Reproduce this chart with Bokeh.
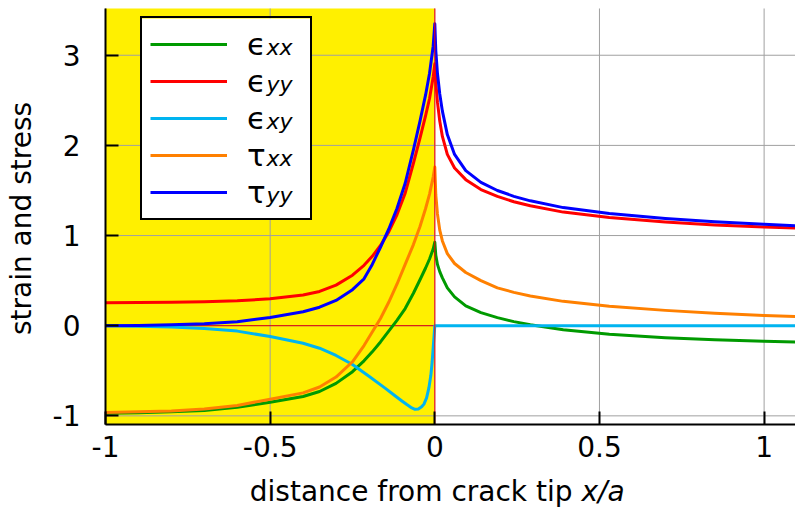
from bokeh.plotting import figure
from bokeh.models import Range1d, FixedTicker, Label, Legend, LegendItem, LinearAxis, BoxAnnotation
from bokeh.embed import file_html
from bokeh.resources import INLINE

# ---------------- data ----------------
x_tip = [-1.0, -0.9, -0.8, -0.7, -0.6, -0.5, -0.4, -0.35, -0.3, -0.25, -0.215, -0.19,
         -0.165, -0.14, -0.115, -0.09, -0.065, -0.045, -0.028, -0.016, -0.005, 0.0,
         0.003, 0.008, 0.015, 0.023, 0.038, 0.06, 0.094, 0.14, 0.19, 0.24, 0.29,
         0.39, 0.53, 0.7, 0.85, 1.0, 1.1]

eps_xx = [-0.97, -0.965, -0.955, -0.94, -0.905, -0.85, -0.785, -0.73, -0.64, -0.51, -0.39, -0.29,
          -0.18, -0.06, 0.06, 0.19, 0.36, 0.51, 0.64, 0.74, 0.85, 0.926,
          0.78, 0.68, 0.6, 0.53, 0.42, 0.32, 0.22, 0.145, 0.09, 0.045, 0.01,
          -0.045, -0.095, -0.133, -0.157, -0.172, -0.18]

eps_yy = [0.254, 0.256, 0.26, 0.266, 0.277, 0.298, 0.34, 0.38, 0.45, 0.56, 0.67, 0.77,
          0.89, 1.04, 1.23, 1.47, 1.8, 2.08, 2.33, 2.52, 2.76, 2.905,
          2.7, 2.48, 2.27, 2.1, 1.9, 1.75, 1.62, 1.51, 1.435, 1.375, 1.33,
          1.26, 1.2, 1.15, 1.118, 1.095, 1.082]

tau_xx = [-0.963, -0.955, -0.945, -0.925, -0.885, -0.815, -0.745, -0.68, -0.57, -0.40, -0.22, -0.07,
          0.08, 0.26, 0.46, 0.68, 0.9, 1.1, 1.3, 1.46, 1.65, 1.76,
          1.45, 1.24, 1.06, 0.94, 0.8, 0.69, 0.59, 0.50, 0.42, 0.37, 0.33,
          0.27, 0.215, 0.17, 0.137, 0.113, 0.10]

tau_yy = [0.0, 0.003, 0.01, 0.022, 0.045, 0.09, 0.155, 0.205, 0.28, 0.40, 0.52, 0.68,
          0.87, 1.07, 1.3, 1.58, 1.95, 2.27, 2.56, 2.8, 3.1, 3.35,
          3.05, 2.8, 2.57, 2.38, 2.12, 1.9, 1.72, 1.59, 1.50, 1.435, 1.385,
          1.31, 1.245, 1.19, 1.152, 1.125, 1.108]

x_shear = [-1.0, -0.9, -0.8, -0.7, -0.6, -0.5, -0.4, -0.35, -0.3, -0.25, -0.2, -0.15, -0.12,
           -0.1, -0.085, -0.07, -0.06, -0.05, -0.04, -0.033, -0.025, -0.018, -0.012, -0.008,
           -0.004, -0.001, 0.0, 0.3, 0.7, 1.1]
eps_xy = [0.0, -0.005, -0.014, -0.03, -0.06, -0.12, -0.195, -0.25, -0.33, -0.43, -0.56, -0.695, -0.78,
          -0.835, -0.875, -0.912, -0.928, -0.925, -0.9, -0.87, -0.8, -0.69, -0.55, -0.4,
          -0.2, -0.05, 0.0, 0.0, 0.0, 0.0]

crack_x = [-1.0, 0.0]        # crack faces (shaded region)
crack_y = [0.0, 0.0]
tip_x = 0.0

x_ticks = [-1, -0.5, 0, 0.5, 1]
x_tick_labels = ["-1", "-0.5", "0", "0.5", "1"]
y_ticks = [-1, 0, 1, 2, 3]
y_tick_labels = ["-1", "0", "1", "2", "3"]

series_names = ["ϵ", "ϵ", "ϵ", "τ", "τ"]
series_subs = ["xx", "yy", "xy", "xx", "yy"]
series_colors = ["#009a00", "#ff0000", "#00b4f0", "#ff8000", "#0000ff"]

# plotted area (axes box) and whole canvas in data units
area_x = (-1.0, 1.0953)
area_y = (-1.096, 3.5186)
canvas_x = (-1.3189, 1.0953)
canvas_y = (-2.0277, 3.6073)

# ---------------- figure ----------------
FONT = "DejaVu Sans"
W, H = 795, 508
p = figure(width=W, height=H, output_backend="svg", toolbar_location=None,
           x_range=Range1d(*canvas_x), y_range=Range1d(*canvas_y),
           x_axis_type=None, y_axis_type=None,
           min_border_left=0, min_border_right=0, min_border_top=0, min_border_bottom=0)
p.outline_line_color = None
p.background_fill_color = "white"
p.border_fill_color = "white"

# shaded crack region
p.quad(left=[crack_x[0]], right=[crack_x[1]], bottom=[area_y[0]], top=[area_y[1]],
       fill_color="#fff000", line_color=None, level="image")

# grid lines, limited to the axes box
n_x, n_y = len(x_ticks), len(y_ticks)
p.segment(x0=x_ticks, x1=x_ticks, y0=[area_y[0]] * n_x, y1=[area_y[1]] * n_x,
          line_color="#a0a0a0", line_width=1, level="underlay")
p.segment(x0=[area_x[0]] * n_y, x1=[area_x[1]] * n_y, y0=y_ticks, y1=y_ticks,
          line_color="#a0a0a0", line_width=1, level="underlay")

p.line(crack_x, crack_y, line_color="#e00000", line_width=1)

data = [(x_tip, eps_xx), (x_tip, eps_yy), (x_shear, eps_xy), (x_tip, tau_xx), (x_tip, tau_yy)]
renderers = []
for (xs, ys), c in zip(data, series_colors):
    r = p.line(xs, ys, line_color=c, line_width=3, line_join="round")
    renderers.append(r)

p.segment(x0=[tip_x], x1=[tip_x], y0=[area_y[0]], y1=[area_y[1]], line_color="#ff0000",
          line_width=1)

# axes, fixed at the edges of the axes box
xax = LinearAxis(fixed_location=area_y[0], bounds=area_x,
                 ticker=FixedTicker(ticks=x_ticks, minor_ticks=[]))
yax = LinearAxis(fixed_location=area_x[0], bounds=area_y,
                 ticker=FixedTicker(ticks=y_ticks, minor_ticks=[]))
xax.major_label_overrides = {t: s for t, s in zip(x_ticks, x_tick_labels)}
yax.major_label_overrides = {t: s for t, s in zip(y_ticks, y_tick_labels)}
for ax in (xax, yax):
    ax.axis_line_width = 2
    ax.axis_line_color = "black"
    ax.major_tick_in = 13
    ax.major_tick_out = 0
    ax.major_tick_line_width = 2
    ax.major_tick_line_color = "black"
    ax.minor_tick_line_color = None
    ax.major_label_text_font = FONT
    ax.major_label_text_font_size = "28px"
    ax.major_label_text_color = "black"
xax.major_label_standoff = 11
yax.major_label_standoff = 25
p.add_layout(xax, "below")
p.add_layout(yax, "left")

# axis titles
p.add_layout(Label(x=572, y=17, x_units="screen", y_units="screen", text="distance from crack tip",
                   text_align="right", text_baseline="alphabetic", text_font=FONT,
                   text_font_size="28px", text_color="black"))
p.add_layout(Label(x=581, y=17, x_units="screen", y_units="screen", text="x/a",
                   text_align="left", text_baseline="alphabetic", text_font=FONT,
                   text_font_size="28px", text_font_style="italic", text_color="black"))
p.add_layout(Label(x=21, y=290, x_units="screen", y_units="screen", text="strain and stress",
                   angle=1.5707963, text_align="center", text_baseline="alphabetic",
                   text_font=FONT, text_font_size="28px", text_color="black"))

# legend: white box, then subscripts, then the (transparent) legend itself
p.add_layout(BoxAnnotation(left=141, right=310, bottom=289, top=490,
                           left_units="screen", right_units="screen",
                           bottom_units="screen", top_units="screen",
                           fill_color="white", fill_alpha=1.0, line_color=None))
for k, s in enumerate(series_subs):
    p.add_layout(Label(x=266, y=461 - 37 * k, x_units="screen", y_units="screen", text=s,
                       text_align="left", text_baseline="alphabetic", text_font=FONT,
                       text_font_size="22px", text_font_style="italic", text_color="black"))
items = [LegendItem(label=n, renderers=[r]) for n, r in zip(series_names, renderers)]
legend = Legend(items=items, location=(140, 288), orientation="vertical", padding=8, spacing=1,
                glyph_width=77, glyph_height=36, label_height=36, label_width=55, label_standoff=20,
                label_text_font=FONT, label_text_font_size="31px", label_text_color="black",
                border_line_color="black", border_line_width=2, border_line_alpha=1.0,
                background_fill_color="white", background_fill_alpha=0.0, margin=0)
p.add_layout(legend)

open("out.html", "w").write(file_html(p, INLINE))
